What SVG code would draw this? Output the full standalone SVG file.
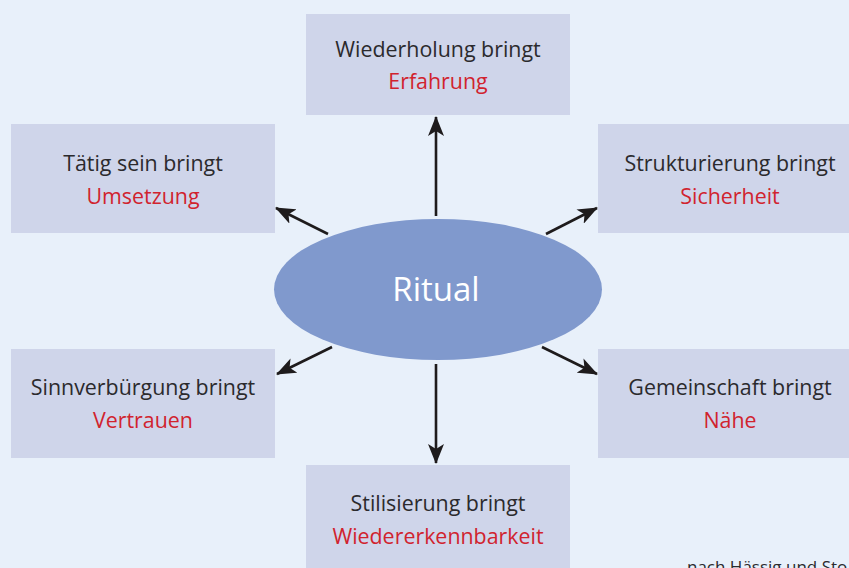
<svg xmlns="http://www.w3.org/2000/svg" width="849" height="568" viewBox="0 0 849 568">
<style>
.box{fill:#cfd5ea}
.t{font-family:"Open Sans","Noto Sans",sans-serif;font-size:21.4px;text-anchor:middle;fill:#2b2a2d}
.r{fill:#d1232e}
</style>
<defs>
<marker id="ah2" viewBox="0 0 20 16" refX="19" refY="8" markerWidth="20" markerHeight="16" markerUnits="userSpaceOnUse" orient="auto">
<path d="M0,0 L20,8 L0,16 L5,8 Z" fill="#1e1b1c"/>
</marker>
</defs>
<rect width="849" height="568" fill="#e8f0fa"/>
<g id="n-top"><rect class="box" x="306" y="14" width="264" height="101"/><text class="t" x="438" y="57">Wiederholung bringt</text><text class="t r" x="438" y="89">Erfahrung</text></g>
<g id="n-tl"><rect class="box" x="11" y="124" width="264" height="109"/><text class="t" x="143" y="171">Tätig sein bringt</text><text class="t r" x="143" y="204">Umsetzung</text></g>
<g id="n-tr"><rect class="box" x="598" y="124" width="264" height="109"/><text class="t" x="730" y="171">Strukturierung bringt</text><text class="t r" x="730" y="204">Sicherheit</text></g>
<g id="n-bl"><rect class="box" x="11" y="349" width="264" height="109"/><text class="t" x="143" y="395">Sinnverbürgung bringt</text><text class="t r" x="143" y="428">Vertrauen</text></g>
<g id="n-br"><rect class="box" x="598" y="349" width="264" height="109"/><text class="t" x="730" y="395">Gemeinschaft bringt</text><text class="t r" x="730" y="428">Nähe</text></g>
<g id="n-bottom"><rect class="box" x="306" y="465" width="264" height="110"/><text class="t" x="438" y="511">Stilisierung bringt</text><text class="t r" x="438" y="544">Wiedererkennbarkeit</text></g>
<g id="n-ritual"><ellipse cx="438" cy="289.5" rx="164" ry="70.5" fill="#8099cd"/><text x="436" y="301" style="font-family:'Open Sans','Noto Sans',sans-serif;font-size:33px;text-anchor:middle;fill:#ffffff">Ritual</text></g>
<g id="connectors" stroke="#1e1b1c" stroke-width="2.6" fill="none">
<line x1="436" y1="216" x2="436" y2="117" marker-end="url(#ah2)"/>
<line x1="436" y1="364" x2="436" y2="463" marker-end="url(#ah2)"/>
<line x1="328" y1="234" x2="276" y2="208" marker-end="url(#ah2)"/>
<line x1="546" y1="234" x2="597" y2="208" marker-end="url(#ah2)"/>
<line x1="332" y1="347" x2="277" y2="374" marker-end="url(#ah2)"/>
<line x1="542" y1="347" x2="597" y2="374" marker-end="url(#ah2)"/>
</g>
<text x="687" y="573" style="font-family:'Open Sans','Noto Sans',sans-serif;font-size:17px;fill:#2b2a2d">nach Hässig und Sto</text>
</svg>
